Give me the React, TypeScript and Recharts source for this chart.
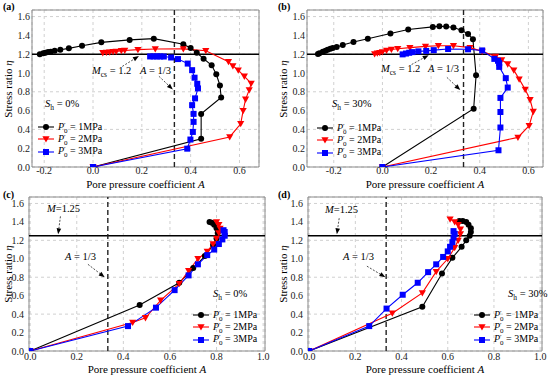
import React from 'react'
import {
  LineChart,
  Line,
  XAxis,
  YAxis,
  CartesianGrid,
  ReferenceLine,
  ReferenceArea,
} from 'recharts'

type Pt = [number, number]

// (a) Sh = 0%, Mcs = 1.2
const aBlack: Pt[] = [
  [0, 0], [0.443, 0.3], [0.443, 0.565], [0.525, 0.74], [0.52, 0.868], [0.505, 0.987],
  [0.486, 1.082], [0.453, 1.152], [0.425, 1.215], [0.4, 1.265], [0.37, 1.305], [0.249, 1.365],
  [0.15, 1.352], [0.034, 1.326], [-0.045, 1.29], [-0.099, 1.262], [-0.134, 1.248], [-0.157, 1.237],
  [-0.173, 1.227], [-0.184, 1.223], [-0.195, 1.216], [-0.204, 1.209], [-0.218, 1.198],
]
const aRed: Pt[] = [
  [0, 0], [0.56, 0.32], [0.605, 0.46], [0.615, 0.6], [0.625, 0.72], [0.64, 0.82], [0.648, 0.89],
  [0.62, 0.965], [0.595, 1.03], [0.573, 1.075], [0.555, 1.12], [0.462, 1.237], [0.37, 1.257],
  [0.255, 1.255], [0.184, 1.248], [0.13, 1.24], [0.116, 1.237], [0.095, 1.23], [0.082, 1.227],
  [0.068, 1.222], [0.055, 1.219], [0.04, 1.215],
]
const aBlue: Pt[] = [
  [0, 0], [0.386, 0.195], [0.399, 0.292], [0.409, 0.373], [0.412, 0.48], [0.412, 0.565],
  [0.406, 0.658], [0.418, 0.73], [0.43, 0.836], [0.427, 0.885], [0.416, 0.95], [0.406, 1.03],
  [0.388, 1.1], [0.348, 1.148], [0.32, 1.165], [0.29, 1.175], [0.275, 1.176], [0.262, 1.176],
  [0.248, 1.176], [0.234, 1.176],
]

// (b) Sh = 30%, Mcs = 1.2
const bBlack: Pt[] = [
  [0, 0], [0.375, 0.62], [0.385, 0.975], [0.372, 1.36], [0.352, 1.415], [0.325, 1.455],
  [0.292, 1.483], [0.262, 1.495], [0.234, 1.497], [0.207, 1.49], [0.106, 1.463], [0.033, 1.42],
  [-0.06, 1.365], [-0.119, 1.33], [-0.163, 1.298], [-0.188, 1.276], [-0.204, 1.266], [-0.214, 1.258],
  [-0.225, 1.248], [-0.234, 1.237], [-0.245, 1.226], [-0.259, 1.21], [-0.265, 1.203],
]
const bRed: Pt[] = [
  [0, 0], [0.557, 0.315], [0.603, 0.44], [0.62, 0.59], [0.607, 0.715], [0.587, 0.825],
  [0.562, 0.935], [0.54, 1.03], [0.515, 1.095], [0.49, 1.14], [0.465, 1.175], [0.41, 1.23],
  [0.36, 1.27], [0.292, 1.29], [0.23, 1.29], [0.177, 1.283], [0.113, 1.27], [0.063, 1.258],
  [0.037, 1.25], [0.017, 1.24], [0.0, 1.225], [-0.011, 1.216], [-0.021, 1.21], [-0.032, 1.202],
]
const bBlue: Pt[] = [
  [0, 0], [0.477, 0.178], [0.485, 0.42], [0.485, 0.585], [0.485, 0.735], [0.515, 0.845],
  [0.507, 0.945], [0.48, 1.065], [0.48, 1.105], [0.475, 1.13], [0.46, 1.15], [0.41, 1.24],
  [0.352, 1.252], [0.27, 1.255], [0.211, 1.243], [0.18, 1.235], [0.148, 1.23], [0.124, 1.222],
  [0.11, 1.215], [0.097, 1.207], [0.083, 1.198],
]

// (c) Sh = 0%, M = 1.25
const cBlack: Pt[] = [
  [0, 0], [0.47, 0.5], [0.64, 0.74], [0.7, 0.9], [0.75, 1.03], [0.785, 1.15], [0.8, 1.22],
  [0.805, 1.28], [0.8, 1.33], [0.79, 1.37], [0.78, 1.39], [0.77, 1.4],
]
const cRed: Pt[] = [
  [0, 0], [0.44, 0.31], [0.495, 0.36], [0.56, 0.55], [0.64, 0.73], [0.68, 0.87], [0.72, 1.0],
  [0.76, 1.08], [0.785, 1.16], [0.8, 1.22], [0.81, 1.28], [0.815, 1.33], [0.81, 1.37], [0.8, 1.4],
]
const cBlue: Pt[] = [
  [0, 0], [0.42, 0.27], [0.54, 0.47], [0.62, 0.66], [0.68, 0.82], [0.72, 0.94], [0.76, 1.04],
  [0.79, 1.1], [0.81, 1.16], [0.825, 1.21], [0.835, 1.25], [0.835, 1.29], [0.83, 1.31],
]

// (d) Sh = 30%, M = 1.25
const dBlack: Pt[] = [
  [0, 0], [0.49, 0.48], [0.575, 0.84], [0.62, 1.01], [0.66, 1.13], [0.68, 1.2], [0.695, 1.25],
  [0.7, 1.29], [0.7, 1.33], [0.69, 1.37], [0.68, 1.4], [0.665, 1.41], [0.65, 1.41],
]
const dRed: Pt[] = [
  [0, 0], [0.36, 0.41], [0.49, 0.63], [0.55, 0.86], [0.6, 1.0], [0.63, 1.12], [0.645, 1.2],
  [0.655, 1.27], [0.655, 1.32], [0.645, 1.37], [0.63, 1.4], [0.61, 1.43],
]
const dBlue: Pt[] = [
  [0, 0], [0.26, 0.27], [0.335, 0.46], [0.405, 0.61], [0.47, 0.74], [0.515, 0.855], [0.55, 0.94],
  [0.58, 1.02], [0.6, 1.08], [0.61, 1.13], [0.62, 1.18], [0.625, 1.23], [0.63, 1.27], [0.625, 1.3],
]

const yTicks = [0, 0.2, 0.4, 0.6, 0.8, 1.0, 1.2, 1.4, 1.6]
const xTicksAB = [-0.2, 0, 0.2, 0.4, 0.6]
const xTicksCD = [0, 0.2, 0.4, 0.6, 0.8, 1.0]
const pressures = ['1MPa', '2MPa', '3MPa']
const colors = ['#000000', '#ff0000', '#0000ff']

const FONT = '"Liberation Serif", "Times New Roman", Times, serif'

const toRows = (pts: Pt[]) => pts.map(([x, y]) => ({ x, y }))

const CircleDot = (p: any) => (
  <circle key={p.index} cx={p.cx} cy={p.cy} r={3} fill="#000" />
)
const TriDot = (p: any) => {
  const s = 3.6
  return (
    <polygon
      key={p.index}
      points={`${p.cx - s},${p.cy - s * 0.75} ${p.cx + s},${p.cy - s * 0.75} ${p.cx},${p.cy + s}`}
      fill="#ff0000"
    />
  )
}
const SquareDot = (p: any) => (
  <rect key={p.index} x={p.cx - 3} y={p.cy - 3} width={6} height={6} fill="#0000ff" />
)
const dots = [CircleDot, TriDot, SquareDot]

const Arrow = (p: any) => {
  const { x1, y1, x2, y2 } = p
  const ang = Math.atan2(y2 - y1, x2 - x1)
  const L = 6
  const W = 2.3
  const bx = x2 - L * Math.cos(ang)
  const by = y2 - L * Math.sin(ang)
  const px = -Math.sin(ang) * W
  const py = Math.cos(ang) * W
  return (
    <g>
      <line x1={x1} y1={y1} x2={bx} y2={by} stroke="#222" strokeWidth={0.8} strokeDasharray="2 1.5" />
      <polygon points={`${x2},${y2} ${bx + px},${by + py} ${bx - px},${by - py}`} fill="#000" />
    </g>
  )
}

const fmt = (v: number) => v.toFixed(1)

interface PanelProps {
  left: number
  top: number
  tag: string
  series: Pt[][]
  xDomain: [number, number]
  xTicks: number[]
  hLine: number
  yAxisWidth: number
  margin: { top: number; right: number; left: number; bottom: number }
  xAxisHeight: number
  titleGap: number
  tickGap: number
  yTickGap: number
  arrows: { x: number; y: number }[][]
  children?: React.ReactNode
}

function Panel(props: PanelProps) {
  const { left, top, tag, series, xDomain, xTicks, hLine, yAxisWidth, margin, xAxisHeight, arrows, titleGap, tickGap, yTickGap } = props
  const plotLeft = margin.left + yAxisWidth
  const plotRight = 275 - margin.right
  const plotBottom = 188 - margin.bottom - xAxisHeight
  return (
    <div style={{ position: 'absolute', left, top, width: 275, height: 188, fontFamily: FONT }}>
      <LineChart width={275} height={188} margin={margin} style={{ fontFamily: FONT }}>
        <CartesianGrid stroke="#d0d0d0" strokeDasharray="3 3" />
        <XAxis
          type="number"
          dataKey="x"
          domain={xDomain}
          ticks={xTicks}
          tickFormatter={fmt}
          allowDataOverflow
          height={xAxisHeight}
          axisLine={false}
          tickLine={false}
          tickSize={0}
          tickMargin={tickGap}
          tick={{ fontSize: 10, fill: '#222', fontFamily: FONT }}
        />
        <YAxis
          type="number"
          dataKey="y"
          domain={[0, 1.67]}
          ticks={yTicks}
          tickFormatter={fmt}
          allowDataOverflow
          width={yAxisWidth}
          axisLine={false}
          tickLine={false}
          tickSize={0}
          tickMargin={yTickGap}
          tick={{ fontSize: 10, fill: '#222', fontFamily: FONT }}
        />
        <ReferenceArea
          x1={xDomain[0]}
          x2={xDomain[1]}
          y1={0}
          y2={1.67}
          fill="none"
          stroke="#8a8a8a"
          strokeWidth={1}
        />
        <ReferenceLine y={hLine} stroke="#000" strokeWidth={1.4} />
        <ReferenceLine x={1 / 3} stroke="#222" strokeWidth={1.4} strokeDasharray="5 3" />
        {arrows.map((seg, i) => (
          <ReferenceLine key={i} segment={seg} shape={Arrow} />
        ))}
        {series.map((pts, i) => (
          <Line
            key={i}
            data={toRows(pts)}
            dataKey="y"
            type="linear"
            stroke={colors[i]}
            strokeWidth={1.1}
            dot={dots[i]}
            activeDot={false}
            isAnimationActive={false}
          />
        ))}
      </LineChart>
      <div style={{ position: 'absolute', left: 3, top: 1, fontSize: 10, fontWeight: 'bold' }}>{tag}</div>
      <div
        style={{
          position: 'absolute',
          left: 1,
          top: (margin.top + plotBottom) / 2,
          fontSize: 11,
          whiteSpace: 'nowrap',
          transform: 'translate(0, -50%) rotate(-90deg)',
          transformOrigin: 'center',
          width: 14,
          display: 'flex',
          justifyContent: 'center',
        }}
      >
        <span>
          Stress ratio <i>η</i>
        </span>
      </div>
      <div
        style={{
          position: 'absolute',
          left: plotLeft,
          width: plotRight - plotLeft,
          top: plotBottom + titleGap,
          textAlign: 'center',
          fontSize: 11,
          lineHeight: '12px',
        }}
      >
        Pore pressure coefficient <i>A</i>
      </div>
      {props.children}
    </div>
  )
}

function Legend({ left, top, lineW, gap }: { left: number; top: number; lineW: number; gap: number }) {
  return (
    <div style={{ position: 'absolute', left, top, fontSize: 10 }}>
      {pressures.map((p, i) => (
        <div key={p} style={{ display: 'flex', alignItems: 'center', height: 12.3 }}>
          <svg width={lineW} height={10}>
            <line x1={0} y1={5} x2={lineW} y2={5} stroke={colors[i]} strokeWidth={1.1} />
            {i === 0 && <circle cx={lineW / 2} cy={5} r={3} fill="#000" />}
            {i === 1 && (
              <polygon
                points={`${lineW / 2 - 3.6},${5 - 2.7} ${lineW / 2 + 3.6},${5 - 2.7} ${lineW / 2},${5 + 3.6}`}
                fill="#ff0000"
              />
            )}
            {i === 2 && <rect x={lineW / 2 - 3} y={2} width={6} height={6} fill="#0000ff" />}
          </svg>
          <span style={{ marginLeft: gap, whiteSpace: 'nowrap' }}>
            <i>P</i>
            <span style={{ display: 'inline-flex', flexDirection: 'column', fontSize: 7, lineHeight: '6px', verticalAlign: 'middle' }}>
              <span>′</span>
              <span>0</span>
            </span>
            {' '}= {p}
          </span>
        </div>
      ))}
    </div>
  )
}

const Txt = ({ left, top, children }: { left: number; top: number; children: React.ReactNode }) => (
  <div style={{ position: 'absolute', left, top, fontSize: 10.5, whiteSpace: 'nowrap' }}>{children}</div>
)

export default function App() {
  return (
    <div style={{ position: 'absolute', left: 0, top: 0, width: 550, height: 376, background: '#fff' }}>
      <Panel
        left={0}
        top={0}
        tag="(a)"
        series={[aBlack, aRed, aBlue]}
        xDomain={[-0.25, 0.68]}
        xTicks={xTicksAB}
        hLine={1.2}
        yAxisWidth={32}
        margin={{ top: 10, right: 16, left: 0, bottom: 0 }}
        xAxisHeight={21}
        titleGap={11}
        tickGap={0}
        yTickGap={2}
        arrows={[
          [{ x: 0.12, y: 1.07 }, { x: 0.188, y: 1.18 }],
          [{ x: 0.27, y: 0.965 }, { x: 0.327, y: 0.825 }],
        ]}
      >
        <Txt left={92} top={65}>
          <i>M</i>
          <sub style={{ fontSize: 7.5 }}>cs</sub> = 1.2
        </Txt>
        <Txt left={140} top={65}>
          <i>A</i> = 1/3
        </Txt>
        <Txt left={45} top={98}>
          <i>S</i>
          <sub style={{ fontSize: 7.5 }}>h</sub> = 0%
        </Txt>
        <Legend left={38} top={121} lineW={16} gap={4} />
      </Panel>
      <Panel
        left={275}
        top={0}
        tag="(b)"
        series={[bBlack, bRed, bBlue]}
        xDomain={[-0.31, 0.66]}
        xTicks={xTicksAB}
        hLine={1.2}
        yAxisWidth={32}
        margin={{ top: 10, right: 7, left: 0, bottom: 0 }}
        xAxisHeight={21}
        titleGap={11}
        tickGap={0}
        yTickGap={2}
        arrows={[
          [{ x: 0.12, y: 1.09 }, { x: 0.19, y: 1.19 }],
          [{ x: 0.265, y: 0.953 }, { x: 0.32, y: 0.818 }],
        ]}
      >
        <Txt left={106} top={63}>
          <i>M</i>
          <sub style={{ fontSize: 7.5 }}>cs</sub> = 1.2
        </Txt>
        <Txt left={153} top={63}>
          <i>A</i> = 1/3
        </Txt>
        <Txt left={57} top={98}>
          <i>S</i>
          <sub style={{ fontSize: 7.5 }}>h</sub> = 30%
        </Txt>
        <Legend left={42} top={122} lineW={16} gap={4} />
      </Panel>
      <Panel
        left={0}
        top={188}
        tag="(c)"
        series={[cBlack, cRed, cBlue]}
        xDomain={[-0.005, 1.008]}
        xTicks={xTicksCD}
        hLine={1.25}
        yAxisWidth={29}
        margin={{ top: 9, right: 10, left: 0, bottom: 0 }}
        xAxisHeight={25}
        titleGap={12}
        tickGap={2}
        yTickGap={5}
        arrows={[
          [{ x: 0.13, y: 1.46 }, { x: 0.12, y: 1.265 }],
          [{ x: 0.248, y: 0.94 }, { x: 0.32, y: 0.8 }],
        ]}
      >
        <Txt left={47} top={15}>
          <i>M</i>=1.25
        </Txt>
        <Txt left={65} top={63}>
          <i>A</i> = 1/3
        </Txt>
        <Txt left={213} top={100}>
          <i>S</i>
          <sub style={{ fontSize: 7.5 }}>h</sub> = 0%
        </Txt>
        <Legend left={193} top={121} lineW={16} gap={4} />
      </Panel>
      <Panel
        left={275}
        top={188}
        tag="(d)"
        series={[dBlack, dRed, dBlue]}
        xDomain={[-0.005, 1.008]}
        xTicks={xTicksCD}
        hLine={1.25}
        yAxisWidth={33}
        margin={{ top: 9, right: 8, left: 0, bottom: 0 }}
        xAxisHeight={25}
        titleGap={12}
        tickGap={2}
        yTickGap={5}
        arrows={[
          [{ x: 0.13, y: 1.44 }, { x: 0.12, y: 1.265 }],
          [{ x: 0.25, y: 0.92 }, { x: 0.33, y: 0.8 }],
        ]}
      >
        <Txt left={50} top={16}>
          <i>M</i>=1.25
        </Txt>
        <Txt left={68} top={63}>
          <i>A</i> = 1/3
        </Txt>
        <Txt left={233} top={100}>
          <i>S</i>
          <sub style={{ fontSize: 7.5 }}>h</sub> = 30%
        </Txt>
        <Legend left={199} top={121} lineW={16} gap={4} />
      </Panel>
    </div>
  )
}
